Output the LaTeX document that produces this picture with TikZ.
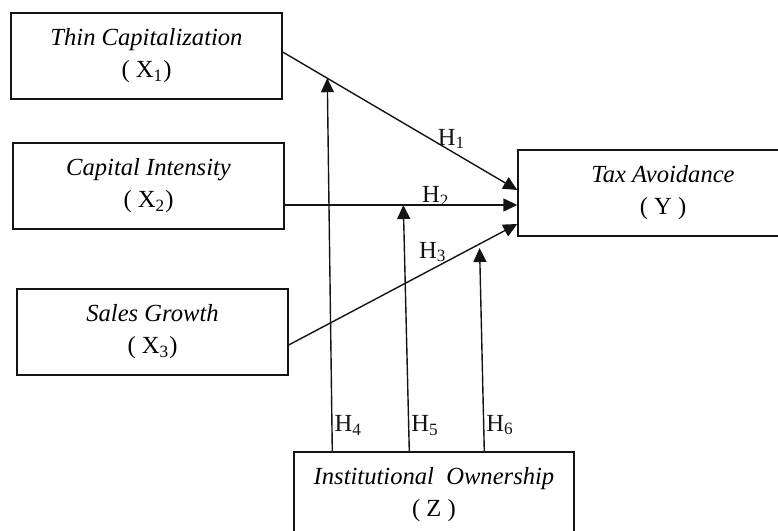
\documentclass[tikz,border=0pt]{standalone}
\usepackage{fontspec}
\setmainfont{Liberation Serif}
\usetikzlibrary{arrows.meta,calc}
\definecolor{Ink}{HTML}{141414}
\tikzset{
  box/.style={draw=Ink,line width=0.7pt,minimum width=135.5pt,minimum height=43pt,align=center,inner sep=2pt,font=\fontsize{12.3}{16}\selectfont},
  arr/.style={-{Triangle[length=7pt,width=6.5pt]},line width=0.7pt,draw=Ink},
  hlbl/.style={font=\fontsize{12.3}{14}\selectfont,inner sep=1pt,text=Ink},
}

\begin{document}
\begin{tikzpicture}[x=0.5pt,y=-0.5pt]
 \useasboundingbox (0,0) rectangle (778,531);
 % variables
 \node[box] (thin) at (146.5,56) {\textit{Thin Capitalization}\\( X\textsubscript{1})};
 \node[box] (capint) at (148.5,186) {\textit{Capital Intensity}\\( X\textsubscript{2})};
 \node[box] (sales) at (152.5,332) {\textit{Sales Growth}\\( X\textsubscript{3})};
 \node[box,minimum width=145pt] (tax) at (663,193) {\textit{Tax Avoidance}\\( Y )};
 \node[box,minimum width=140pt] (inst) at (434,495) {\textit{Institutional~ Ownership}\\( Z )};
 % direct effects
 \draw[arr] ($(thin.east)+(0,-4)$) -- node[pos=0.19,coordinate] (m1) {} node[hlbl,pos=0.72,above] {H\textsubscript{1}} ($(tax.west)+(0,-3)$);
 \draw[arr] ($(capint.east)+(0,19)$) -- node[pos=0.51,coordinate] (m2) {} node[hlbl,pos=0.65,above,yshift=-2pt] {H\textsubscript{2}} ($(tax.west)+(0,12)$);
 \draw[arr] ($(sales.east)+(0,13)$) -- node[pos=0.835,coordinate] (m3) {} node[hlbl,pos=0.63,above,yshift=2pt] {H\textsubscript{3}} ($(tax.west)+(0,31)$);
 % moderation
 \draw[arr] ($(inst.north west)+(39,0)$) -- node[hlbl,pos=0.07,right] {H\textsubscript{4}} (m1);
 \draw[arr] ($(inst.north west)+(116,0)$) -- node[hlbl,pos=0.105,right] {H\textsubscript{5}} (m2);
 \draw[arr] ($(inst.north west)+(191,0)$) -- node[hlbl,pos=0.13,right] {H\textsubscript{6}} ($(m3)+(0,4)$);
\end{tikzpicture}
\end{document}
